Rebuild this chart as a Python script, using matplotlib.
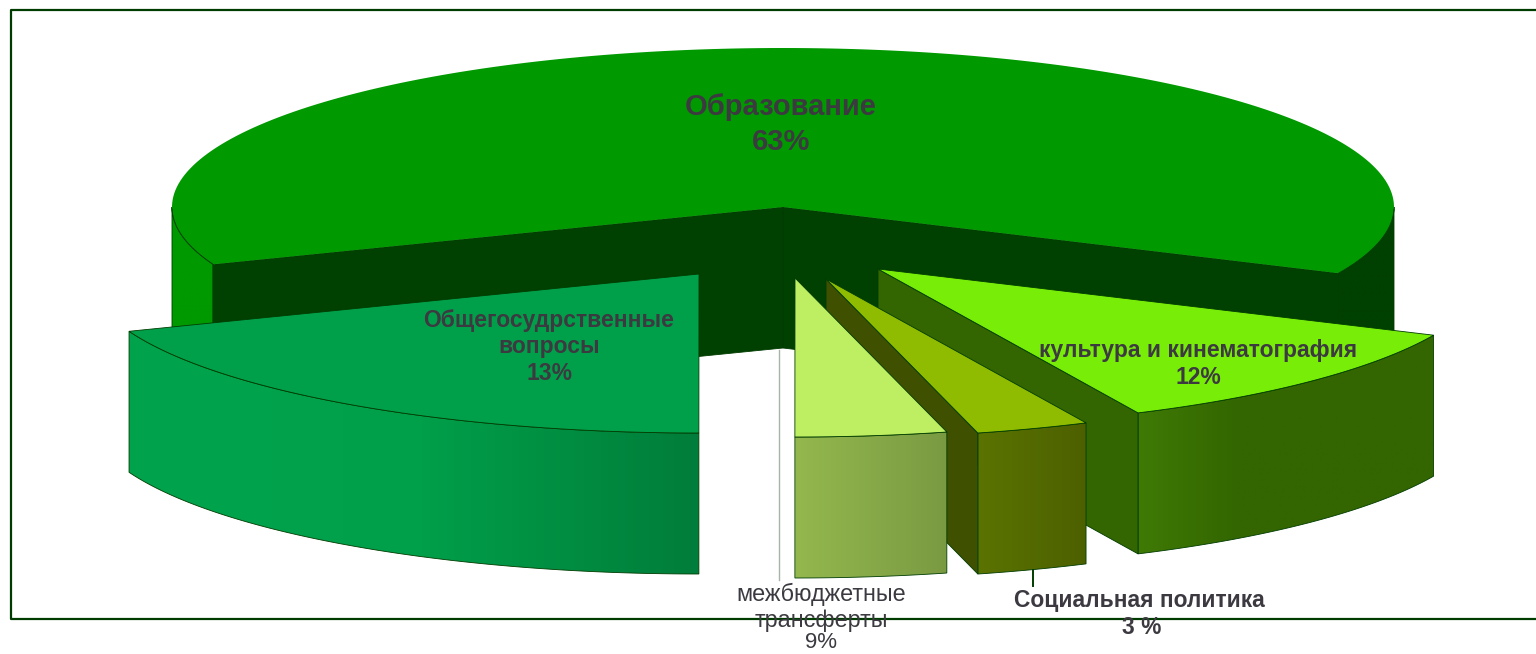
import numpy as np
import matplotlib
matplotlib.use("Agg")
import matplotlib.pyplot as plt
from matplotlib.colors import LinearSegmentedColormap
from matplotlib.patches import Polygon

# slice sizes as drawn in the picture (the printed labels differ from them)
categories = ["Образование", "Общегосудрственные вопросы", "межбюджетные трансферты",
              "Социальная политика", "культура и кинематография"]
drawn_shares = [62.7, 19.13, 4.0, 3.0, 11.17]
start_angle = -24.6

# layout, in pixels of the 1536x654 image
cx, cy, rx, ry, depth = 783, 207, 611, 159, 141
shifts = [(0, 0), (-84, 67), (12, 71), (43, 72), (95, 62)]

top_colors = ["#009900", "#00A04B", "#BEEE62", "#8FBC00", "#78EE08"]
cut_colors = ["#004000", "#007D3A", "#6F8F3C", "#3F5000", "#336600"]
wall_colors = [("#009900", "#009900"), ("#00A44C", "#00A04A", "#007D3A"), ("#94B84E", "#7A9A42"),
               ("#5A7300", "#4D6000"), ("#3F7A05", "#336600", "#336600", "#336600")]
right_wall_main = "#004000"
edge = "#003C00"
text_color = "#3C3A40"

plt.rcParams["font.family"] = ["Liberation Sans", "DejaVu Sans"]

fig = plt.figure(figsize=(15.36, 6.54), dpi=100)
ax = fig.add_axes([0, 0, 1, 1])


def rim(t, shift):
    t = np.radians(t)
    return cx + rx * np.cos(t) + shift[0], cy - ry * np.sin(t) + shift[1]


def draw_wall(t0, t1, shift, colors, z):
    # front wall between two angles, gradient runs left to right
    if t1 <= t0:
        return
    x, y = rim(np.linspace(t0, t1, 120), shift)
    pts = list(zip(x, y)) + list(zip(x[::-1], y[::-1] + depth))
    wall = Polygon(pts, facecolor="none", edgecolor=edge, lw=0.6, zorder=z + 0.1)
    ax.add_patch(wall)
    cmap = LinearSegmentedColormap.from_list("wall", colors)
    img = ax.imshow(np.linspace(0, 1, 256).reshape(1, -1), cmap=cmap, aspect="auto", zorder=z,
                    extent=[x.min(), x.max(), y.max() + depth, y.min()])
    img.set_clip_path(wall)


def draw_cut(t, shift, color, z):
    apex = (cx + shift[0], cy + shift[1])
    end = rim(t, shift)
    ax.add_patch(Polygon([apex, end, (end[0], end[1] + depth), (apex[0], apex[1] + depth)],
                         facecolor=color, edgecolor=edge, lw=0.6, zorder=z + 0.2))


bounds = start_angle + 3.6 * np.concatenate([[0], np.cumsum(drawn_shares)])

# back to front: main slice, left slice, then the right ones
for n, i in enumerate([0, 1, 4, 3, 2]):
    t0, t1 = bounds[i], bounds[i + 1]
    s = shifts[i]
    z = n * 2 + 2
    if i == 0:
        # both ends of the big slice show their outer wall
        draw_wall(180, t1, s, wall_colors[0], z)
        draw_wall(t0, 0, s, (right_wall_main, right_wall_main), z)
    else:
        draw_wall(max(t0, 180), t1, s, wall_colors[i], z)
    if np.cos(np.radians(t0)) > 0.01:
        draw_cut(t0, s, cut_colors[i], z)
    if np.cos(np.radians(t1)) < -0.01:
        draw_cut(t1, s, cut_colors[i], z)
    ts = np.linspace(t0, t1, 200)
    x, y = rim(ts, s)
    outline = [(cx + s[0], cy + s[1])] + list(zip(x, y))
    ax.add_patch(Polygon(outline, facecolor=top_colors[i], edgecolor=edge if i else "none",
                         lw=0.6, zorder=z + 1))
    if i == 0:
        ax.plot(*rim(ts[ts > 180], s), color=edge, lw=0.6, zorder=z + 1)
        ax.plot(*rim(ts[ts < 0], s), color=edge, lw=0.6, zorder=z + 1)

# frame runs off the right side
ax.plot([1536, 11, 11, 1536], [10, 10, 619, 619], color="#003C00", lw=1.6, zorder=30)

# leader lines
ax.plot([779, 779], [350, 580], color="#A8B4A8", lw=1.0, zorder=1)
ax.plot([1033, 1033], [570, 586], color="#003C00", lw=1.4, zorder=31)

ax.text(781, 107, "Образование", ha="center", va="center", fontsize=21, fontweight="bold", color=text_color, zorder=40)
ax.text(781, 142, "63%", ha="center", va="center", fontsize=21, fontweight="bold", color=text_color, zorder=40)
ax.text(549, 320, "Общегосудрственные", ha="center", va="center", fontsize=16.5, fontweight="bold", color=text_color, zorder=40)
ax.text(549, 347, "вопросы", ha="center", va="center", fontsize=16.5, fontweight="bold", color=text_color, zorder=40)
ax.text(549, 373, "13%", ha="center", va="center", fontsize=16.5, fontweight="bold", color=text_color, zorder=40)
ax.text(1198, 351, "культура и кинематография", ha="center", va="center", fontsize=16.5, fontweight="bold", color=text_color, zorder=40)
ax.text(1198, 378, "12%", ha="center", va="center", fontsize=16.5, fontweight="bold", color=text_color, zorder=40)
ax.text(821, 594, "межбюджетные", ha="center", va="center", fontsize=16.8, color=text_color, zorder=40)
ax.text(821, 620, "трансферты", ha="center", va="center", fontsize=16.8, color=text_color, zorder=40)
ax.text(821, 642, "9%", ha="center", va="center", fontsize=16, color=text_color, zorder=40)
ax.text(1139, 600, "Социальная политика", ha="center", va="center", fontsize=16.4, fontweight="bold", color=text_color, zorder=40)
ax.text(1142, 627, "3 %", ha="center", va="center", fontsize=16.4, fontweight="bold", color=text_color, zorder=40)

ax.set_xlim(0, 1536)
ax.set_ylim(654, 0)
ax.axis("off")

fig.savefig("out.png", dpi=100, facecolor="white")
